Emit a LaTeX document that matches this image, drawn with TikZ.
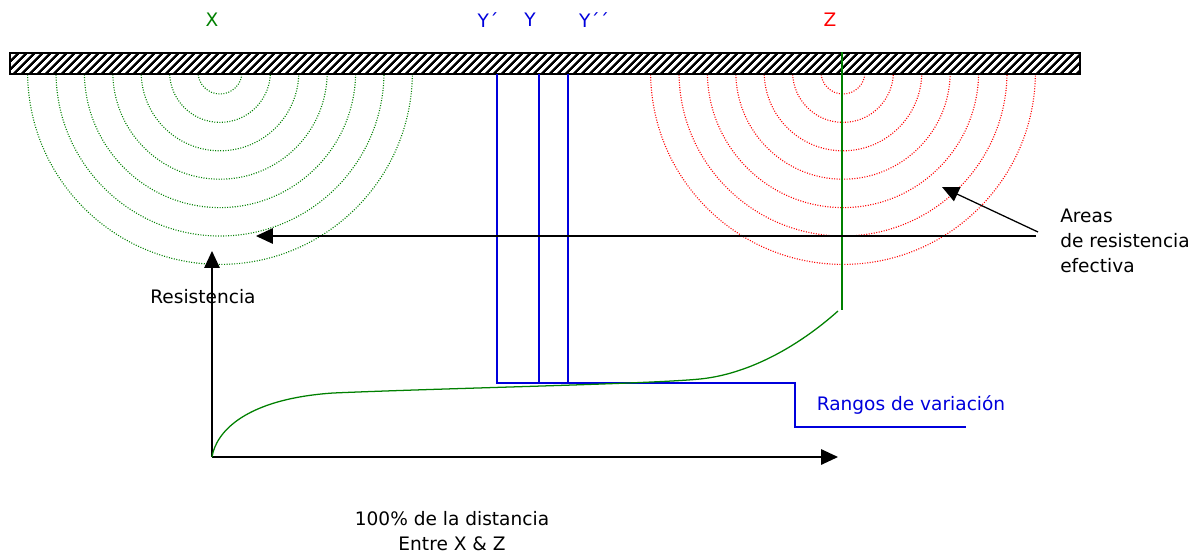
\documentclass[tikz,border=0pt]{standalone}
\usepackage{fontspec}
\setmainfont{DejaVu Sans}
\usepackage{tikz}
\usetikzlibrary{positioning,arrows.meta,patterns.meta}
\definecolor{dgreen}{RGB}{0,128,0}
\definecolor{dblue}{RGB}{0,0,220}

\begin{document}
\begin{tikzpicture}[x=0.025cm, y=-0.025cm,
  txt/.style={font=\fontsize{13.2}{17.8}\selectfont, inner sep=0pt},
  arr/.style={-{Triangle[length=12pt,width=11pt]}, line width=0.9pt},
  ring/.style={line width=0.8pt, dash pattern=on 0.7pt off 1.1pt},
  rng/.style={dblue, line width=0.9pt}]
\useasboundingbox (0,0) rectangle (1195,554);
% areas round X and Z
\foreach \k [evaluate=\k as \rr using 22+28.4*\k] in {0,...,6} {
  \draw[ring, dgreen] (220-\rr,72) arc[start angle=180, end angle=0, radius=\rr];
  \draw[ring, red] (843-\rr,72) arc[start angle=180, end angle=0, radius=\rr];
}
\draw[line width=1.3pt, preaction={fill=white},
  pattern={Lines[angle=45,distance=4pt,line width=1.8pt]}] (10,53) rectangle (1080,74);
\node[txt, dgreen] (X) at (212,20) {X};
\node[txt, dblue] (Y1) at (488,20) {Y´};
\node[txt, dblue] (Y) at (530,20) {Y};
\node[txt, dblue] (Y2) at (594,20) {Y´´};
\node[txt, red] (Z) at (830,20) {Z};
% ranges
\coordinate (ya) at (497,74);
\coordinate (yb) at (539,74);
\coordinate (yc) at (568,74);
\draw[rng] (ya) -- (497,383) -- (795,383) -- (795,427) -- (966,427);
\draw[rng] (yb) -- (539,383);
\draw[rng] (yc) -- (568,383);
\node[txt, dblue] (rangos) at (911,405) {Rangos de variación};
% resistance
\coordinate (O) at (212,457);
\draw[arr] (O) -- (212,251);
\draw[arr] (O) -- (838,457);
\node[txt] (res) at (203,297) {Resistencia};
\draw[dgreen, line width=0.9pt] (842,52) -- (842,310);
\draw[dgreen, line width=0.9pt] (O) .. controls (216,432) and (245,399) .. (333,393)
  .. controls (450,388) and (650,384) .. (700,379)
  .. controls (750,374) and (800,345) .. (838,311);
\node[txt, align=left, anchor=west] (areas) at (1060,241) {Areas\\de resistencia\\efectiva};
\coordinate (a1) at (1036,236);
\coordinate (a2) at (1038,232);
\draw[arr] (a1) -- (256,236);
\draw[arr] (a2) -- (942,187);
\node[txt, align=center] (dist) at (452,531) {100\% de la distancia\\Entre X \& Z};
\end{tikzpicture}
\end{document}
